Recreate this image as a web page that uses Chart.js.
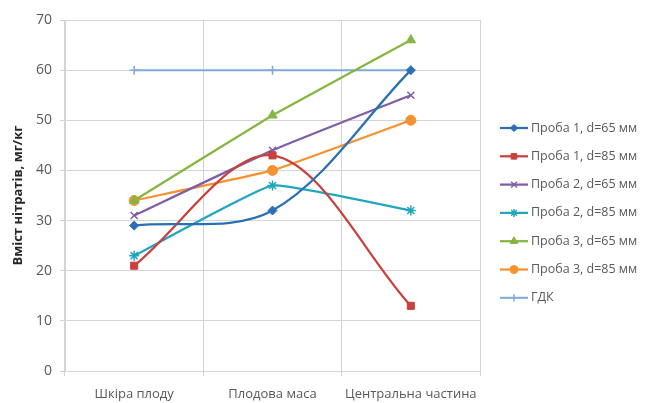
<!DOCTYPE html>
<html>
<head>
<meta charset="utf-8">
<script src="https://cdn.jsdelivr.net/npm/chart.js@4.4.1/dist/chart.umd.min.js"></script>
<style>
  html, body { margin: 0; padding: 0; background: #ffffff; }
  #wrap { width: 646px; height: 403px; position: relative; }
</style>
</head>
<body>
<div id="wrap"><canvas id="c" width="646" height="403"></canvas></div>
<script>
// Sample zones of the fruit
const categories = ['Шкіра плоду', 'Плодова маса', 'Центральна частина'];

// Nitrate content, mg/kg
const sample1d65 = [29, 32, 60];
const sample1d85 = [21, 43, 13];
const sample2d65 = [31, 44, 55];
const sample2d85 = [23, 37, 32];
const sample3d65 = [34, 51, 66];
const sample3d85 = [34, 40, 50];
const limitMAC   = [60, 60, 60];

const seriesNames = [
  'Проба 1, d=65 мм', 'Проба 1, d=85 мм',
  'Проба 2, d=65 мм', 'Проба 2, d=85 мм',
  'Проба 3, d=65 мм', 'Проба 3, d=85 мм',
  'ГДК'
];

const yTicks = { min: 0, max: 70, step: 10 };
const yTitle = 'Вміст нітратів, мг/кг';

const FONT = '"Open Sans", "Liberation Sans", sans-serif';
const GRID = '#d4d4d4';
const TEXT = '#595959';

function series(label, data, color, style, radius, tension, width) {
  return {
    label, data,
    borderColor: color, backgroundColor: color,
    pointBackgroundColor: color, pointBorderColor: color,
    pointStyle: style, pointRadius: radius, pointBorderWidth: style === 'crossRot' || style === 'star' || style === 'cross' ? 1.5 : 1,
    borderWidth: width || 2.25, tension: tension, fill: false
  };
}

const datasets = [
  series(seriesNames[0], sample1d65, '#2b6fb4', 'rectRot', 4.5, 0.33),
  series(seriesNames[1], sample1d85, '#c8413d', 'rect', 5, 0.33),
  series(seriesNames[2], sample2d65, '#7e5ea6', 'crossRot', 5, 0.15),
  series(seriesNames[3], sample2d85, '#22a6bd', 'star', 5, 0.1),
  series(seriesNames[4], sample3d65, '#86b641', 'triangle', 5.5, 0.05),
  series(seriesNames[5], sample3d85, '#f5922f', 'circle', 5, 0.1),
  series(seriesNames[6], limitMAC,   '#80a8d8', 'cross', 4.5, 0, 2)
];

// Legend on the right: a short line with the series marker, then the name
const sideLegend = {
  id: 'sideLegend',
  afterDraw(chart) {
    const ctx = chart.ctx;
    const x0 = 500, x1 = 528, tx = 531, y0 = 128, dy = 28.3;
    ctx.save();
    chart.data.datasets.forEach((ds, i) => {
      const y = y0 + i * dy;
      ctx.strokeStyle = ds.borderColor;
      ctx.lineWidth = ds.borderWidth;
      ctx.beginPath();
      ctx.moveTo(x0, y);
      ctx.lineTo(x1, y);
      ctx.stroke();
      ctx.fillStyle = ds.pointBackgroundColor;
      ctx.strokeStyle = ds.pointBorderColor;
      ctx.lineWidth = ds.pointBorderWidth;
      Chart.helpers.drawPoint(ctx, {
        pointStyle: ds.pointStyle,
        radius: ds.pointRadius * 0.8,
        rotation: 0,
        borderWidth: ds.pointBorderWidth
      }, (x0 + x1) / 2, y);
      ctx.fillStyle = TEXT;
      ctx.font = '12.5px ' + FONT;
      ctx.textBaseline = 'middle';
      ctx.textAlign = 'left';
      ctx.fillText(ds.label, tx, y);
    });
    ctx.restore();
  }
};

new Chart(document.getElementById('c'), {
  type: 'line',
  data: { labels: categories, datasets },
  options: {
    responsive: false,
    animation: false,
    devicePixelRatio: 1,
    layout: { padding: { left: 0, right: 166, top: 20, bottom: 0 } },
    plugins: { legend: { display: false }, tooltip: { enabled: false } },
    scales: {
      x: {
        offset: true,
        grid: { offset: true, color: GRID, lineWidth: 1, tickLength: 5, drawTicks: true },
        border: { color: GRID },
        ticks: { color: TEXT, font: { family: FONT, size: 13 }, padding: 10, maxRotation: 0, autoSkip: false },
        afterFit(scale) { scale.height = 32; }
      },
      y: {
        min: yTicks.min, max: yTicks.max,
        ticks: { stepSize: yTicks.step, color: TEXT, font: { family: FONT, size: 14 }, padding: 8 },
        grid: { color: GRID, lineWidth: 1, tickLength: 5 },
        border: { color: GRID },
        title: {
          display: true, text: yTitle, color: '#262626',
          font: { family: FONT, size: 13, weight: 'bold' },
          padding: { top: 10, bottom: 0 }
        },
        afterFit(scale) { scale.width = 65; }
      }
    }
  },
  plugins: [sideLegend]
});
</script>
</body>
</html>
